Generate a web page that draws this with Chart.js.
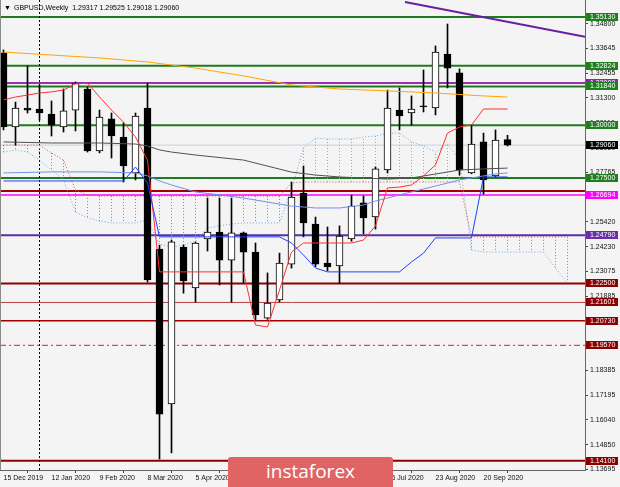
<!DOCTYPE html>
<html>
<head>
<meta charset="utf-8">
<script src="https://cdn.jsdelivr.net/npm/chart.js@4.4.1/dist/chart.umd.min.js"></script>
<style>
  html, body { margin: 0; padding: 0; background: #f4f4f4; }
  #wrap { position: relative; width: 620px; height: 487px; overflow: hidden; }
  #logo {
    position: absolute; left: 228px; top: 457px; width: 165px; height: 36px;
    background: #e06464; border-radius: 3px 3px 0 0; color: #fff;
    font: 19px "Open Sans", sans-serif; text-align: center; line-height: 28px;
  }
</style>
</head>
<body>
<div id="wrap">
  <canvas id="chart" width="620" height="487"></canvas>
  <div id="logo">instaforex</div>
</div>
<script>
// weekly GBPUSD, first bar = week of 15 Dec 2019
const OPEN  = [1.3343,1.2992,1.3082,1.3077,1.3053,1.2992,1.3072,1.3172,1.2878,1.3030,1.2944,1.2774,1.3082,1.2413,1.1679,1.2423,1.2229,1.2461,1.2494,1.2361,1.2490,1.2399,1.2086,1.2172,1.2342,1.2679,1.2532,1.2347,1.2333,1.2461,1.2632,1.2565,1.2788,1.3072,1.3058,1.3091,1.3082,1.3338,1.3248,1.2774,1.2921,1.2760,1.29317];
const HIGH  = [1.3357,1.3110,1.3281,1.3191,1.3115,1.3172,1.3205,1.3181,1.3072,1.3058,1.3011,1.3058,1.3200,1.2432,1.2456,1.2432,1.2447,1.2655,1.2655,1.2655,1.2494,1.2442,1.2300,1.2394,1.2731,1.2807,1.2565,1.2518,1.2523,1.2669,1.2665,1.2802,1.3167,1.3177,1.3139,1.3262,1.3376,1.3480,1.3267,1.3001,1.2963,1.2978,1.29525];
const LOW   = [1.2978,1.2906,1.3058,1.3025,1.2949,1.2968,1.2973,1.2873,1.2869,1.2845,1.2731,1.2741,1.2257,1.1418,1.1447,1.2204,1.2162,1.2404,1.2243,1.2162,1.2252,1.2077,1.2080,1.2162,1.2323,1.2471,1.2330,1.2310,1.2252,1.2450,1.2485,1.2508,1.2774,1.2978,1.3001,1.3063,1.3049,1.3177,1.2764,1.2770,1.2674,1.2755,1.29018];
const CLOSE = [1.2992,1.3082,1.3072,1.3058,1.3001,1.3068,1.3200,1.2878,1.3039,1.2949,1.2807,1.3044,1.2267,1.1631,1.2447,1.2262,1.2442,1.2494,1.2361,1.2490,1.2399,1.2101,1.2157,1.2347,1.2660,1.2537,1.2342,1.2328,1.2475,1.2617,1.2561,1.2793,1.3082,1.3044,1.3077,1.3087,1.3347,1.3271,1.2788,1.2911,1.2741,1.2930,1.29060];

// Ichimoku lines
const TENKAN = [1.3120,1.3134,1.3143,1.3153,1.3158,1.3167,1.3196,1.3200,1.3134,1.3072,1.3015,1.2944,1.2835,1.2305,1.2305,1.2305,1.2305,1.2305,1.2305,1.2305,1.2305,1.2053,1.2044,1.2219,1.2399,1.2442,1.2442,1.2442,1.2442,1.2442,1.2456,1.2523,1.2703,1.2707,1.2717,1.2760,1.2812,1.2963,1.2992,1.3001,1.3077,1.3077,1.3077];
const KIJUN  = [1.2736,1.2736,1.2736,1.2736,1.2736,1.2736,1.2736,1.2736,1.2736,1.2736,1.2736,1.2802,1.2726,1.2471,1.2471,1.2471,1.2471,1.2471,1.2471,1.2471,1.2471,1.2471,1.2471,1.2471,1.2442,1.2385,1.2323,1.2305,1.2305,1.2305,1.2305,1.2305,1.2305,1.2305,1.2352,1.2394,1.2466,1.2466,1.2466,1.2466,1.2755,1.2755,1.2755];
// senkou spans, shifted forward (index 0..47)
const SPAN_RED  = [1.2906,1.2906,1.2906,1.2906,1.2869,1.2835,1.2693,1.2670,1.2665,1.2665,1.2665,1.2665,1.2665,1.2665,1.2665,1.2665,1.2665,1.2665,1.2665,1.2665,1.2665,1.2665,1.2665,1.2665,1.2726,1.2731,1.2731,1.2731,1.2731,1.2731,1.2731,1.2731,1.2731,1.2731,1.2731,1.2731,1.2731,1.2731,1.2731,1.2471,1.2471,1.2471,1.2471,1.2471,1.2471,1.2471,1.2471,1.2471];
const SPAN_BLUE = [1.2873,1.2883,1.2873,1.2835,1.2788,1.2741,1.2589,1.2561,1.2546,1.2537,1.2537,1.2537,1.2551,1.2437,1.2423,1.2432,1.2451,1.2513,1.2523,1.2532,1.2537,1.2537,1.2537,1.2537,1.2693,1.2892,1.2940,1.2935,1.2935,1.2935,1.2944,1.2949,1.2963,1.2963,1.2921,1.2902,1.2873,1.2911,1.2835,1.2409,1.2399,1.2399,1.2399,1.2399,1.2399,1.2399,1.2323,1.2252];

// moving averages (read at a few bars)
const MA_SLOW_X = [0,4,8,12,16,20,24,28,32,36,40,42];
const MA_SLOW_Y = [1.3347,1.3333,1.3319,1.3300,1.3271,1.3234,1.3191,1.3172,1.3163,1.3153,1.3139,1.3134];
const MA_MID_X  = [0,4,8,11,12,13,14,16,20,24,26,28,30,32,34,36,38,40,42];
const MA_MID_Y  = [1.2921,1.2916,1.2916,1.2911,1.2902,1.2883,1.2873,1.2859,1.2835,1.2778,1.2764,1.2755,1.2750,1.2745,1.2750,1.2769,1.2788,1.2793,1.2797];
const MA_FAST_X = [0,4,8,11,12,13,14,16,18,20,22,24,26,28,30,31,32,33,34,35,36,37,38,39,40,41,42];
const MA_FAST_Y = [1.2774,1.2779,1.2779,1.2774,1.2760,1.2736,1.2717,1.2684,1.2670,1.2655,1.2636,1.2617,1.2608,1.2608,1.2622,1.2641,1.2655,1.2670,1.2684,1.2698,1.2712,1.2726,1.2741,1.2750,1.2760,1.2769,1.2774];

// horizontal levels and the trend line
const LEVELS = [1.35130,1.32824,1.32000,1.31840,1.30000,1.27500,1.26880,1.26694,1.24790,1.22500,1.21601,1.20730,1.19570,1.14100];
const LEVEL_LABELED = [true,true,true,true,true,true,false,true,true,true,true,true,true,true];
const TREND_X = [33.46, 48.46];
const TREND_Y = [1.3584, 1.3419];
const SEPARATOR_IDX = 3;

// axis labels
const DATE_IDX = [0,4,8,12,16,20,24,28,32,36,40];
const DATES = ['15 Dec 2019','12 Jan 2020','9 Feb 2020','8 Mar 2020','5 Apr 2020','3 May 2020','31 May 2020','28 Jun 2020','26 Jul 2020','23 Aug 2020','20 Sep 2020'];
const Y_TICKS = [1.34800,1.33645,1.32455,1.31300,1.30110,1.28920,1.27765,1.26575,1.25420,1.24230,1.23075,1.21885,1.20730,1.19540,1.18385,1.17195,1.16040,1.14850,1.13695];
const TITLE = 'GBPUSD,Weekly  1.29317 1.29525 1.29018 1.29060';

// styles
const LEVEL_STYLE = [
  { color: '#1f7a1f', width: 2, bg: '#1f7f1f' },
  { color: '#1f7a1f', width: 2, bg: '#1f7f1f' },
  { color: '#9a2fb0', width: 2, bg: '#8e24aa' },
  { color: '#1f7a1f', width: 2, bg: '#1f7f1f' },
  { color: '#1f7a1f', width: 2, bg: '#1f7f1f' },
  { color: '#1f7a1f', width: 2, bg: '#1f7f1f' },
  { color: '#a00000', width: 2, bg: '#8b0000' },
  { color: '#ff3cff', width: 2, bg: '#ff00ff' },
  { color: '#5b2da6', width: 2, bg: '#6a2fa8' },
  { color: '#8b0000', width: 2, bg: '#8b0000' },
  { color: '#b84040', width: 1, bg: '#8b0000' },
  { color: '#a00000', width: 1.5, bg: '#8b0000' },
  { color: '#c03030', width: 1, bg: '#8b0000', dash: [6, 3, 2, 3] },
  { color: '#8b0000', width: 2, bg: '#8b0000' }
];
const FONT = '"Liberation Sans", "DejaVu Sans", sans-serif';
const X_MIN = -3.5 / 12, X_MAX = X_MIN + 585 / 12;
const Y_MAX = 1.359376, Y_MIN = Y_MAX - 470 * 0.000474;

const idx = OPEN.map((_, i) => i);
const pts = (xs, ys) => xs.map((x, k) => ({ x: x, y: ys[k] }));

function hatch(redOnTop) {
  const out = [];
  SPAN_RED.forEach((r, i) => {
    const b = SPAN_BLUE[i];
    if ((r >= b) === redOnTop) out.push({ x: i, y: r }, { x: i, y: b }, { x: i, y: null });
  });
  return out;
}

const line = (data, color, width, order, dash) => ({
  type: 'line', data: data, borderColor: color, borderWidth: width, borderDash: dash || [],
  pointRadius: 0, tension: 0, fill: false, spanGaps: false, order: order
});

const datasets = [];
LEVELS.forEach((v, k) => {
  const s = LEVEL_STYLE[k];
  datasets.push(line([{ x: X_MIN, y: v }, { x: X_MAX, y: v }], s.color, s.width, 20, s.dash));
});
datasets.push(line([{ x: X_MIN, y: CLOSE[CLOSE.length - 1] }, { x: X_MAX, y: CLOSE[CLOSE.length - 1] }], '#c9cfdb', 1, 21));
datasets.push(line([{ x: SEPARATOR_IDX, y: Y_MIN }, { x: SEPARATOR_IDX, y: Y_MAX }], '#000', 1, 19, [2, 2]));
datasets.push(line(hatch(true), '#d06a6a', 1, 15, [1, 2]));
datasets.push(line(hatch(false), '#7cb0e8', 1, 15, [1, 2]));
datasets.push(line(pts(SPAN_RED.map((_, i) => i), SPAN_RED), '#c85a5a', 1, 14, [1, 2]));
datasets.push(line(pts(SPAN_BLUE.map((_, i) => i), SPAN_BLUE), '#6fa8e6', 1, 14, [1, 2]));
datasets.push({
  type: 'bar', data: idx.map(i => ({ x: i, y: [LOW[i], HIGH[i]] })),
  backgroundColor: '#000', barThickness: 1, grouped: false, order: 6
});
datasets.push({
  type: 'bar', data: idx.map(i => ({ x: i, y: [OPEN[i], CLOSE[i]] })),
  backgroundColor: idx.map(i => CLOSE[i] >= OPEN[i] ? '#ffffff' : '#000000'),
  borderColor: '#000', borderWidth: 1, borderSkipped: false, minBarLength: 1,
  barThickness: 7, grouped: false, order: 5
});
datasets.push(line(pts(MA_SLOW_X, MA_SLOW_Y), '#ffa500', 1, 3));
datasets.push(line(pts(MA_MID_X, MA_MID_Y), '#505050', 1, 3));
datasets.push(line(pts(MA_FAST_X, MA_FAST_Y), '#7090f0', 1, 3));
datasets.push(line(pts(idx, KIJUN), '#2040ff', 1, 2));
datasets.push(line(pts(idx, TENKAN), '#ff3030', 1, 2));
datasets.push(line(pts(TREND_X, TREND_Y), '#6a1fa0', 2, 1));

const overlay = {
  id: 'overlay',
  afterDraw(chart) {
    const { ctx, chartArea, scales } = chart;
    const y = scales.y;
    ctx.save();
    ctx.strokeStyle = '#8a8a8a';
    ctx.lineWidth = 1;
    ctx.beginPath();
    ctx.moveTo(chartArea.left + 0.5, chartArea.top);
    ctx.lineTo(chartArea.left + 0.5, chartArea.bottom);
    ctx.stroke();

    ctx.font = '7px ' + FONT;
    ctx.textBaseline = 'middle';
    const box = (v, bg) => {
      const py = Math.round(y.getPixelForValue(v));
      ctx.fillStyle = bg;
      ctx.fillRect(586, py - 4, 32, 8);
      ctx.fillStyle = '#fff';
      ctx.fillText(v.toFixed(5), 590, py + 0.5);
    };
    LEVELS.forEach((v, k) => { if (LEVEL_LABELED[k]) box(v, LEVEL_STYLE[k].bg); });
    box(CLOSE[CLOSE.length - 1], '#000');

    ctx.fillStyle = '#000';
    ctx.textBaseline = 'alphabetic';
    ctx.font = '7px ' + FONT;
    ctx.fillText('\u25BC', 4, 10);
    ctx.fillText(TITLE, 14, 10);
    ctx.restore();
  }
};

new Chart(document.getElementById('chart'), {
  type: 'line',
  data: { datasets: datasets },
  plugins: [overlay],
  options: {
    responsive: false,
    animation: false,
    devicePixelRatio: 1,
    layout: { padding: 0 },
    plugins: { legend: { display: false }, tooltip: { enabled: false } },
    scales: {
      x: {
        type: 'linear', min: X_MIN, max: X_MAX, offset: false,
        grid: { display: true, drawOnChartArea: false, drawTicks: true, tickLength: 3, color: '#444' },
        border: { display: true, color: '#666' },
        afterBuildTicks: a => { a.ticks = DATE_IDX.map(v => ({ value: v })); },
        afterFit: a => { a.height = 17; a.paddingLeft = 0; a.paddingRight = 0; },
        ticks: {
          autoSkip: false, maxRotation: 0, align: 'start', padding: 1, color: '#111',
          font: { family: FONT, size: 7 },
          callback: (v, i) => DATES[i]
        }
      },
      y: {
        type: 'linear', position: 'right', min: Y_MIN, max: Y_MAX,
        grid: { display: true, drawOnChartArea: false, drawTicks: true, tickLength: 3, color: '#444' },
        border: { display: true, color: '#666' },
        afterBuildTicks: a => { a.ticks = Y_TICKS.map(v => ({ value: v })); },
        afterFit: a => { a.width = 35; a.paddingTop = 0; a.paddingBottom = 0; },
        ticks: {
          autoSkip: false, padding: 2, color: '#111',
          font: { family: FONT, size: 7 },
          callback: v => v.toFixed(5)
        }
      }
    }
  }
});
</script>
</body>
</html>
